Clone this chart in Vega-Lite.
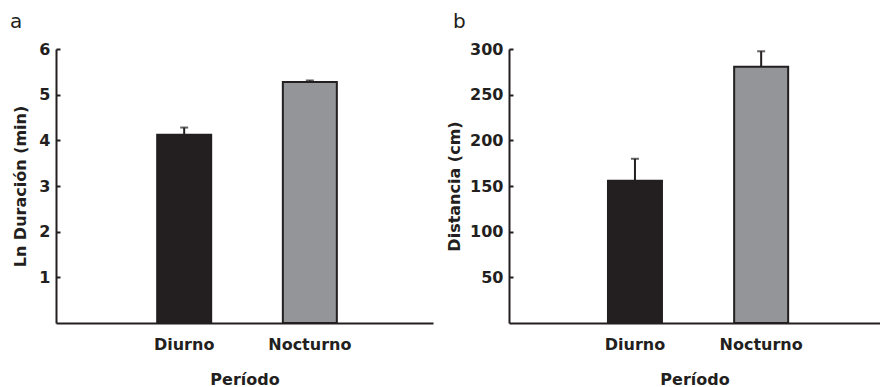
{
  "$schema": "https://vega.github.io/schema/vega-lite/v6.json",
  "padding": {"left": 10, "top": 12, "right": 1, "bottom": 0},
  "bounds": "flush",
  "spacing": 76,
  "config": {
    "view": {"stroke": null},
    "font": "DejaVu Sans",
    "axis": {
      "domainColor": "#231f20",
      "domainWidth": 2,
      "grid": false,
      "labelColor": "#231f20",
      "labelFont": "DejaVu Sans",
      "labelFontSize": 16,
      "labelFontWeight": "bold",
      "titleColor": "#231f20",
      "titleFont": "DejaVu Sans",
      "titleFontSize": 16,
      "titleFontWeight": "bold",
      "tickColor": "#231f20",
      "tickWidth": 2
    },
    "axisY": {"tickSize": -4, "labelPadding": 10, "titleBaseline": "alphabetic"},
    "axisX": {"ticks": false, "labelPadding": 13, "labelAngle": 0, "titleY": 48},
    "title": {"fontSize": 20, "fontWeight": "normal", "color": "#231f20", "anchor": "start", "frame": "group", "baseline": "alphabetic"}
  },
  "datasets": {
    "a": [
      {"Periodo": "Diurno", "valor": 4.12, "sup": 4.28},
      {"Periodo": "Nocturno", "valor": 5.28, "sup": 5.31}
    ],
    "b": [
      {"Periodo": "Diurno", "valor": 155.7, "sup": 179.8},
      {"Periodo": "Nocturno", "valor": 280.7, "sup": 297.5}
    ]
  },
  "hconcat": [
    {
      "width": 377,
      "height": 274,
      "title": {"text": "a", "dx": -46, "offset": 9},
      "data": {"name": "a"},
      "encoding": {
        "x": {
          "field": "Periodo", "type": "nominal",
          "scale": {"domain": ["Diurno", "Nocturno"], "paddingInner": 0, "paddingOuter": 0.5, "align": 0.52},
          "axis": {"title": "Período"}
        }
      },
      "layer": [
        {
          "mark": {"type": "bar", "width": 54, "stroke": "#231f20", "strokeWidth": 2},
          "encoding": {
            "y": {"field": "valor", "type": "quantitative", "title": "Ln Duración (min)",
                  "scale": {"domain": [0, 6], "nice": false},
                  "axis": {"values": [1, 2, 3, 4, 5, 6], "titleX": -31}},
            "color": {"field": "Periodo", "type": "nominal", "scale": {"domain": ["Diurno", "Nocturno"], "range": ["#231f20", "#939598"]}, "legend": null}
          }
        },
        {
          "mark": {"type": "rule", "strokeWidth": 2, "color": "#231f20"},
          "encoding": {
            "y": {"field": "valor", "type": "quantitative", "title": "Ln Duración (min)"},
            "y2": {"field": "sup"}
          }
        },
        {
          "mark": {"type": "tick", "size": 8, "thickness": 2, "color": "#231f20"},
          "encoding": {
            "y": {"field": "sup", "type": "quantitative", "title": "Ln Duración (min)"}
          }
        }
      ]
    },
    {
      "width": 371,
      "height": 274,
      "title": {"text": "b", "dx": -56, "offset": 9},
      "data": {"name": "b"},
      "encoding": {
        "x": {
          "field": "Periodo", "type": "nominal",
          "scale": {"domain": ["Diurno", "Nocturno"], "paddingInner": 0, "paddingOuter": 0.47, "align": 0.53},
          "axis": {"title": "Período"}
        }
      },
      "layer": [
        {
          "mark": {"type": "bar", "width": 54, "stroke": "#231f20", "strokeWidth": 2},
          "encoding": {
            "y": {"field": "valor", "type": "quantitative", "title": "Distancia (cm)",
                  "scale": {"domain": [0, 300], "nice": false},
                  "axis": {"values": [50, 100, 150, 200, 250, 300], "titleX": -50}},
            "color": {"field": "Periodo", "type": "nominal", "scale": {"domain": ["Diurno", "Nocturno"], "range": ["#231f20", "#939598"]}, "legend": null}
          }
        },
        {
          "mark": {"type": "rule", "strokeWidth": 2, "color": "#231f20"},
          "encoding": {
            "y": {"field": "valor", "type": "quantitative", "title": "Distancia (cm)"},
            "y2": {"field": "sup"}
          }
        },
        {
          "mark": {"type": "tick", "size": 8, "thickness": 2, "color": "#231f20"},
          "encoding": {
            "y": {"field": "sup", "type": "quantitative", "title": "Distancia (cm)"}
          }
        }
      ]
    }
  ]
}
